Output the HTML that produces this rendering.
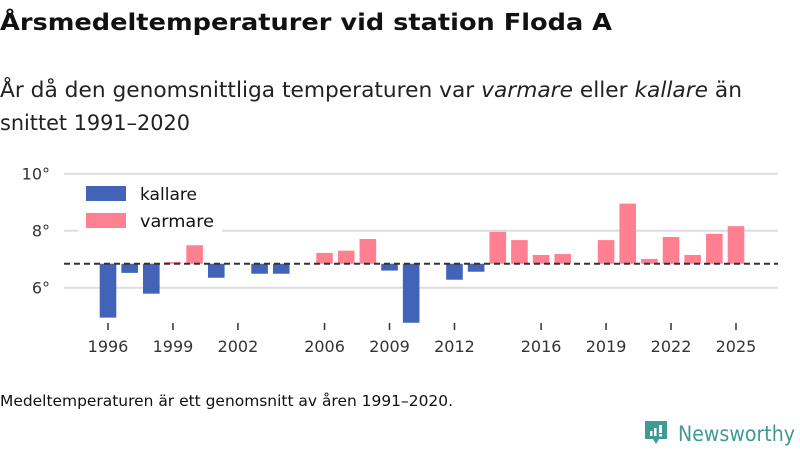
<!DOCTYPE html>
<html><head><meta charset="utf-8"><style>
body{margin:0;width:800px;height:450px;background:#fff;font-family:"DejaVu Sans",sans-serif;overflow:hidden;position:relative;color:#111}
</style></head><body>
<svg id="c" width="800" height="450" style="position:absolute;left:0;top:0" font-family="DejaVu Sans, sans-serif">
<text x="0" y="30" font-size="23" font-weight="bold" fill="#111" textLength="612" lengthAdjust="spacingAndGlyphs">Årsmedeltemperaturer vid station Floda A</text>
<text x="0" y="97" font-size="21" fill="#222" textLength="742" lengthAdjust="spacingAndGlyphs">År då den genomsnittliga temperaturen var <tspan font-style="italic">varmare</tspan> eller <tspan font-style="italic">kallare</tspan> än</text>
<text x="0" y="130" font-size="21" fill="#222" textLength="190" lengthAdjust="spacingAndGlyphs">snittet 1991–2020</text>
<text x="0" y="406" font-size="15" fill="#111" textLength="453" lengthAdjust="spacingAndGlyphs">Medeltemperaturen är ett genomsnitt av åren 1991–2020.</text>
<g>
<path d="M645,421 h22 v18 h-8 l-3,5 l-3,-5 h-8 z" fill="#3f9a94"/>
<rect x="650" y="431" width="2.5" height="5" fill="#fff"/><rect x="654" y="428" width="2.5" height="8" fill="#fff"/><rect x="659" y="425" width="3" height="8" fill="#fff"/><rect x="659" y="434" width="3" height="2.5" fill="#fff"/>
<text x="678" y="441" font-size="21" fill="#3f9a94" textLength="117" lengthAdjust="spacingAndGlyphs">Newsworthy</text>
</g>
</svg>
<script>
const years=[1996,1997,1998,1999,2000,2001,2003,2004,2006,2007,2008,2009,2010,2012,2013,2014,2015,2016,2017,2019,2020,2021,2022,2023,2024,2025];
const temps=[4.95,6.52,5.79,6.90,7.49,6.35,6.49,6.49,7.22,7.30,7.71,6.60,4.77,6.28,6.56,7.96,7.67,7.15,7.18,7.67,8.95,7.01,7.78,7.15,7.89,8.16];
const baseline=6.84;
const yTicks=[6,8,10];
const xTicks=[1996,1999,2002,2006,2009,2012,2016,2019,2022,2025];
const NS="http://www.w3.org/2000/svg",svg=document.getElementById('c');
const x=v=>108+(v-1996)*21.655, y=v=>287.7-(v-6)*28.5;
function el(t,a){const e=document.createElementNS(NS,t);for(const k in a)e.setAttribute(k,a[k]);svg.appendChild(e);return e;}
yTicks.forEach(v=>{
 const g=el('line',{x1:64,x2:778,y1:y(v),y2:y(v),stroke:'#ddd','stroke-width':2});
 
 
 const t=el('text',{x:50,y:y(v)+6,'text-anchor':'end','font-size':16,fill:'#333'});
 t.textContent=v+'°';
 
 
});
xTicks.forEach(v=>{
 const l=el('line',{x1:x(v),x2:x(v),y1:323,y2:330,stroke:'#333','stroke-width':1.5});
 
 
 const t=el('text',{x:x(v),y:352,'text-anchor':'middle','font-size':16,fill:'#333'});
 t.textContent=v;
 
 
});
const lb=el('rect',{x:78,y:176,width:144,height:60,fill:'#fff'});


years.forEach((yr,i)=>{
 const v=temps[i],y0=y(baseline),y1=y(v);
 const r=el('rect',{x:x(yr)-8.3,y:Math.min(y0,y1),width:16.6,height:Math.abs(y1-y0),fill:v<baseline?'#4363b9':'#ff8091'});
 
 
});
const b=el('line',{x1:64,x2:778,y1:y(baseline),y2:y(baseline),stroke:'#333','stroke-width':2,'stroke-dasharray':'6,4'});


[['kallare','#4363b9',186,57],['varmare','#ff8091',213,74]].forEach(([n,c,yy,w])=>{
 const r=el('rect',{x:86,y:yy,width:40,height:15,fill:c});
 
 
 const t=el('text',{x:140,y:yy+14,'font-size':17,fill:'#111',textLength:w,lengthAdjust:'spacingAndGlyphs'});
 t.textContent=n;
 
 
});
</script>
</body></html>
